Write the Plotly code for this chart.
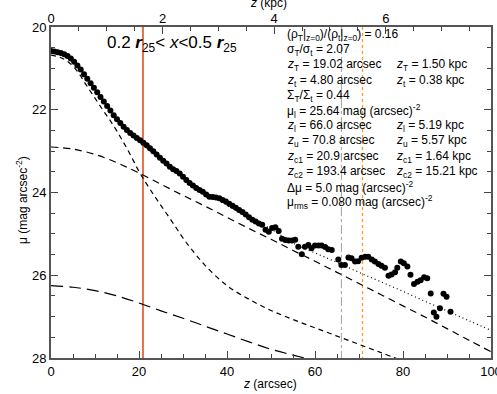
import plotly.graph_objects as go

# ---- data ----
data_z = [0.0, 0.75, 1.5, 2.25, 3.0, 3.75, 4.5, 5.25, 6.0, 6.75, 7.5, 8.25, 9.0, 9.75,
          10.5, 11.25, 12.0, 12.75, 13.5, 14.25, 15.0, 15.75, 16.5, 17.25, 18.0, 18.75,
          19.5, 20.25, 21.0, 21.75, 22.5, 23.25, 24.0, 24.75, 25.5, 26.25, 27.0, 27.75,
          28.5, 29.25, 30.0, 30.75, 31.5, 32.25, 33.0, 33.75, 34.5, 35.25, 36.0, 36.75,
          37.5, 38.25, 39.0, 39.75, 40.5, 41.25, 42.0, 42.75, 43.5, 44.25, 45.0, 45.75,
          46.5, 47.25, 48.0, 48.75, 49.5, 50.25, 51.0, 51.75, 52.5, 53.25, 54.0, 54.75,
          55.5, 56.2, 57.0, 57.7, 58.5, 59.2, 60.0, 60.8, 61.5, 62.3, 63.0, 63.8, 65.3,
          66.0, 66.8, 67.6, 68.3, 69.1, 69.8, 70.6, 71.4, 72.1, 72.9, 73.6, 74.4, 75.1,
          75.9, 76.7, 77.4, 78.2, 78.7, 79.5, 80.2, 81.0, 81.7, 82.5, 83.3, 84.0, 84.8,
          85.5, 86.3, 87.0, 87.6, 88.4, 89.2, 89.9, 90.8]
data_mu = [20.58, 20.59, 20.61, 20.63, 20.66, 20.70, 20.76, 20.84, 20.93, 21.03, 21.14,
           21.25, 21.36, 21.47, 21.58, 21.69, 21.80, 21.91, 22.02, 22.13, 22.23, 22.32,
           22.41, 22.49, 22.56, 22.62, 22.68, 22.74, 22.80, 22.86, 22.93, 23.00, 23.08,
           23.16, 23.23, 23.30, 23.38, 23.44, 23.48, 23.54, 23.62, 23.70, 23.77, 23.83,
           23.89, 23.94, 23.98, 24.05, 24.10, 24.11, 24.12, 24.14, 24.18, 24.22, 24.27,
           24.32, 24.37, 24.42, 24.47, 24.53, 24.60, 24.66, 24.70, 24.75, 24.78, 24.90,
           24.95, 24.86, 24.84, 24.93, 25.12, 25.15, 25.16, 25.16, 25.14, 25.31, 25.49,
           25.31, 25.27, 25.35, 25.28, 25.28, 25.28, 25.32, 25.37, 25.39, 25.62, 25.75,
           25.75, 25.57, 25.59, 25.67, 25.66, 25.58, 25.55, 25.55, 25.62, 25.67, 25.73,
           25.77, 25.82, 26.01, 25.98, 25.93, 25.82, 25.67, 25.71, 25.79, 25.99, 26.21,
           26.16, 26.12, 26.05, 26.07, 26.44, 26.90, 27.00, 26.80, 26.45, 26.52, 26.88]

thin_z = [0, 2, 4, 6, 8, 10, 12, 14, 16, 18, 20, 22, 24, 26, 28, 30, 32, 35, 40, 45,
          50, 55, 60, 65, 70, 75, 80]
thin_mu = [20.68, 20.73, 20.85, 21.07, 21.40, 21.72, 22.04, 22.35, 22.70, 23.08, 23.49,
           23.84, 24.16, 24.47, 24.78, 25.10, 25.38, 25.76, 26.25, 26.58, 26.85, 27.07,
           27.27, 27.47, 27.67, 27.87, 28.07]

thick_z = [0, 5, 10, 15, 20, 25, 30, 35, 40, 45, 50, 55, 60, 65, 70, 75, 80, 85, 90,
           95, 100]
thick_mu = [22.90, 22.95, 23.08, 23.28, 23.53, 23.80, 24.07, 24.33, 24.60, 24.87, 25.13,
            25.40, 25.66, 25.93, 26.20, 26.47, 26.74, 27.01, 27.29, 27.57, 27.85]

third_z = [0, 5, 10, 15, 20, 25, 30, 35, 40, 45, 50, 55, 60]
third_mu = [26.25, 26.29, 26.37, 26.50, 26.67, 26.86, 27.04, 27.23, 27.42, 27.61, 27.79,
            27.93, 28.06]

total_z = [0, 2, 4, 6, 8, 10, 12, 14, 16, 18, 20, 22, 24, 26, 28, 30, 35, 40, 45, 50,
           55, 60, 65, 70, 75, 80, 85, 90, 95, 100]
total_mu = [20.54, 20.60, 20.72, 20.93, 21.20, 21.47, 21.78, 22.07, 22.35, 22.58, 22.76,
            22.95, 23.12, 23.29, 23.45, 23.62, 23.98, 24.31, 24.60, 24.88, 25.22, 25.46,
            25.69, 25.93, 26.16, 26.39, 26.63, 26.86, 27.10, 27.33]

z_c1, z_l, z_u = 20.9, 66.0, 70.8
kpc_per_arcsec = 1.50 / 19.02

text_lines = [
    ("(ρ<sub>T</sub>|<sub>z=0</sub>)/(ρ<sub>t</sub>|<sub>z=0</sub>) = 0.16", None),
    ("σ<sub>T</sub>/σ<sub>t</sub> = 2.07", None),
    ("<i>z</i><sub>T</sub> = 19.02 arcsec", "<i>z</i><sub>T</sub> = 1.50 kpc"),
    ("<i>z</i><sub>t</sub> = 4.80 arcsec", "<i>z</i><sub>t</sub> = 0.38 kpc"),
    ("Σ<sub>T</sub>/Σ<sub>t</sub> = 0.44", None),
    ("μ<sub>l</sub> = 25.64 mag (arcsec)<sup>-2</sup>", None),
    ("<i>z</i><sub>l</sub> = 66.0 arcsec", "<i>z</i><sub>l</sub> = 5.19 kpc"),
    ("<i>z</i><sub>u</sub> = 70.8 arcsec", "<i>z</i><sub>u</sub> = 5.57 kpc"),
    ("<i>z</i><sub>c1</sub> = 20.9 arcsec", "<i>z</i><sub>c1</sub> = 1.64 kpc"),
    ("<i>z</i><sub>c2</sub> = 193.4 arcsec", "<i>z</i><sub>c2</sub> = 15.21 kpc"),
    ("Δμ = 5.0 mag (arcsec)<sup>-2</sup>", None),
    ("μ<sub>rms</sub> = 0.080 mag (arcsec)<sup>-2</sup>", None),
]

FONT = "Liberation Sans, Arial, Helvetica, sans-serif"
W, H = 497, 394
L, R, T, B = 51, 6, 27, 36
PW, PH = W - L - R, H - T - B

fig = go.Figure()

# vertical reference lines
fig.add_trace(go.Scatter(x=[z_c1, z_c1], y=[20, 28], mode="lines",
                         line=dict(color="#E3704E", width=2), hoverinfo="skip"))
fig.add_trace(go.Scatter(x=[z_l, z_l], y=[20, 28], mode="lines",
                         line=dict(color="#A0A0A0", width=1, dash="dashdot"), hoverinfo="skip"))
fig.add_trace(go.Scatter(x=[z_u, z_u], y=[20, 28], mode="lines",
                         line=dict(color="#FF9A1A", width=1.3, dash="dot"), hoverinfo="skip"))

# model components
fig.add_trace(go.Scatter(x=thin_z, y=thin_mu, mode="lines", line_shape="spline",
                         line=dict(color="black", width=1.2, dash="5px,4px")))
fig.add_trace(go.Scatter(x=thick_z, y=thick_mu, mode="lines", line_shape="spline",
                         line=dict(color="black", width=1.2, dash="7px,5px")))
fig.add_trace(go.Scatter(x=third_z, y=third_mu, mode="lines", line_shape="spline",
                         line=dict(color="black", width=1.2, dash="12px,6px")))
fig.add_trace(go.Scatter(x=total_z, y=total_mu, mode="lines", line_shape="spline",
                         line=dict(color="black", width=1.2, dash="1px,3px")))

# data
fig.add_trace(go.Scatter(x=data_z, y=data_mu, mode="markers",
                         marker=dict(color="black", size=6, line=dict(width=0))))

# invisible trace for the top (kpc) axis
fig.add_trace(go.Scatter(x=[0, 100 * kpc_per_arcsec], y=[24, 24], xaxis="x2",
                         mode="markers", marker=dict(opacity=0), hoverinfo="skip"))


def px_to_mu(py):
    return 20 + (py - T) / (PH / 8.0)


def px_to_z(px):
    return (px - L) / (PW / 100.0)


def paper_x(px):
    return (px - L) / PW


def paper_y(py):
    return 1 - (py - T) / PH


anns = []
for i, (c1, c2) in enumerate(text_lines):
    y = px_to_mu(35 + 15.2 * i)
    anns.append(dict(x=px_to_z(285), y=y, xref="x", yref="y", text=c1, showarrow=False,
                     xanchor="left", yanchor="middle", font=dict(size=12, color="black")))
    if c2:
        anns.append(dict(x=px_to_z(394), y=y, xref="x", yref="y", text=c2, showarrow=False,
                         xanchor="left", yanchor="middle", font=dict(size=12, color="black")))

anns.append(dict(x=px_to_z(105), y=px_to_mu(44), xref="x", yref="y",
                 text="0.2 <b><i>r</i></b><sub>25</sub>< <i>x</i><0.5 <b><i>r</i></b><sub>25</sub>",
                 showarrow=False, xanchor="left", yanchor="middle",
                 font=dict(size=17, color="black")))

# axis titles as annotations
anns.append(dict(x=paper_x(270), y=paper_y(384), xref="paper", yref="paper",
                 text="<i>z</i> (arcsec)", showarrow=False, xanchor="center",
                 yanchor="middle", font=dict(size=12)))
anns.append(dict(x=paper_x(268), y=paper_y(3), xref="paper", yref="paper",
                 text="<i>z</i> (kpc)", showarrow=False, xanchor="center",
                 yanchor="middle", font=dict(size=12)))
anns.append(dict(x=paper_x(22), y=paper_y(200), xref="paper", yref="paper",
                 text="μ (mag arcsec<sup>-2</sup>)", showarrow=False, textangle=-90,
                 xanchor="center", yanchor="middle", font=dict(size=12)))

fig.update_layout(
    width=W, height=H,
    margin=dict(l=L, r=R, t=T, b=B, pad=0, autoexpand=False),
    paper_bgcolor="white", plot_bgcolor="white",
    showlegend=False,
    font=dict(family=FONT, size=12, color="black"),
    annotations=anns,
    xaxis=dict(range=[0, 100], dtick=20, ticks="inside", ticklen=7, tickwidth=1,
               tickcolor="#444", showline=True, linecolor="#555", linewidth=2,
               mirror=True, showgrid=False, zeroline=False, automargin=False,
               ticklabeloverflow="allow",
               minor=dict(ticks="inside", ticklen=4, dtick=5, tickcolor="#444"),
               tickfont=dict(size=13)),
    xaxis2=dict(range=[0, 100 * kpc_per_arcsec], overlaying="x", side="top", dtick=2,
                ticks="inside", ticklen=7, tickcolor="#444", showline=False,
                showgrid=False, zeroline=False, automargin=False,
                ticklabeloverflow="allow",
                minor=dict(ticks="inside", ticklen=4, dtick=0.5, tickcolor="#444"),
                tickfont=dict(size=13)),
    yaxis=dict(range=[28, 20], dtick=2, ticks="inside", ticklen=7, tickcolor="#444",
               showline=True, linecolor="#555", linewidth=2, mirror="ticks",
               showgrid=False, zeroline=False, automargin=False,
               minor=dict(ticks="inside", ticklen=4, dtick=0.5, tickcolor="#444"),
               tickfont=dict(size=13)),
)

fig.write_html("out.html", config={"displayModeBar": False},
               post_script="document.body.style.margin='0px';document.body.style.padding='0px';")
